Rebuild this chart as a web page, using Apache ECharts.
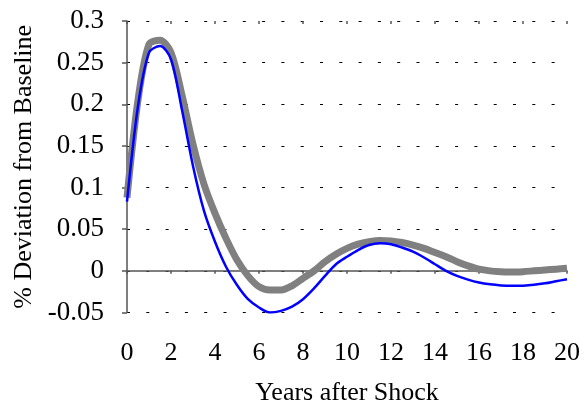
<!DOCTYPE html>
<html>
<head>
<meta charset="utf-8">
<script src="https://cdn.jsdelivr.net/npm/echarts@6/dist/echarts.min.js"></script>
<style>
  html, body { margin: 0; padding: 0; background: #fff; }
  #main { width: 585px; height: 405px; }
</style>
</head>
<body>
<div id="main"></div>
<script>
// 数据（每半年一个点）
var years = [0, 0.5, 1, 1.5, 2, 2.5, 3, 3.5, 4, 4.5, 5, 5.5, 6, 6.5, 7, 7.5, 8, 8.5, 9, 9.5, 10,
             10.5, 11, 11.5, 12, 12.5, 13, 13.5, 14, 14.5, 15, 15.5, 16, 16.5, 17, 17.5, 18, 18.5, 19, 19.5, 20];
var grayLine = [0.088, 0.205, 0.272, 0.277, 0.262, 0.211, 0.152, 0.104, 0.069, 0.039, 0.013, -0.006, -0.019, -0.023, -0.023, -0.018, -0.009, 0.0, 0.011, 0.020, 0.027,
                0.032, 0.035, 0.0365, 0.036, 0.034, 0.031, 0.027, 0.022, 0.017, 0.011, 0.006, 0.002, 0.0, -0.001, -0.0015, -0.001, 0.0, 0.001, 0.002, 0.003];
var blueLine = [0.083, 0.198, 0.262, 0.270, 0.254, 0.193, 0.126, 0.072, 0.035, 0.005, -0.017, -0.034, -0.044, -0.050, -0.048, -0.043, -0.034, -0.021, -0.006, 0.008, 0.017,
                0.025, 0.031, 0.033, 0.032, 0.028, 0.023, 0.016, 0.008, 0.0, -0.006, -0.0105, -0.014, -0.0162, -0.0175, -0.018, -0.0178, -0.0168, -0.015, -0.0125, -0.010];
var yTicks = { min: -0.05, max: 0.3, step: 0.05 };
var xTicks = { min: 0, max: 20, step: 2 };

function pairs(ys) {
    return years.map(function (t, i) { return [t, ys[i]]; });
}

var font = 'Liberation Serif';
var myChart = echarts.init(document.getElementById('main'));

var option = {
    backgroundColor: '#fff',
    animation: false,
    grid: { left: 127, right: 18, top: 21, bottom: 92.5, outerBoundsMode: 'none', containLabel: false },
    xAxis: [
        {   // 零线上的轴线和刻度（向下）
            type: 'value', min: xTicks.min, max: xTicks.max, interval: xTicks.step,
            axisLine: { onZero: true, lineStyle: { color: '#555', width: 1.5 } },
            axisTick: { show: true, inside: false, length: 3, lineStyle: { color: '#555', width: 1.5 } },
            axisLabel: { show: false },
            splitLine: { show: false }
        },
        {   // 刻度向上
            type: 'value', min: xTicks.min, max: xTicks.max, interval: xTicks.step,
            axisLine: { show: false, onZero: true },
            axisTick: { show: true, inside: true, length: 3, lineStyle: { color: '#555', width: 1.5 } },
            axisLabel: { show: false },
            splitLine: { show: false }
        },
        {   // 底部标签和标题
            type: 'value', min: xTicks.min, max: xTicks.max, interval: xTicks.step,
            position: 'bottom',
            axisLine: { show: false, onZero: false },
            axisTick: { show: false },
            axisLabel: { margin: 28, color: '#000', fontFamily: font, fontSize: 26 },
            splitLine: { show: false },
            name: 'Years after Shock',
            nameLocation: 'middle',
            nameGap: 68,
            nameTextStyle: { color: '#000', fontFamily: font, fontSize: 26 }
        }
    ],
    yAxis: {
        type: 'value', min: yTicks.min, max: yTicks.max, interval: yTicks.step,
        axisLine: { show: true, onZero: false, lineStyle: { color: '#555', width: 1.5 } },
        axisTick: { show: true, inside: false, length: 5, lineStyle: { color: '#555', width: 1.5 } },
        axisLabel: { margin: 23, color: '#000', fontFamily: font, fontSize: 27 },
        splitLine: { show: true, lineStyle: { color: '#000', width: 1.2, type: [3, 16.3] } },
        name: '% Deviation from Baseline',
        nameLocation: 'middle',
        nameGap: 88,
        nameTextStyle: { color: '#000', fontFamily: font, fontSize: 26 }
    },
    series: [
        {
            name: 'gray',
            type: 'line',
            xAxisIndex: 0,
            data: pairs(grayLine),
            smooth: 0.3,
            showSymbol: false,
            lineStyle: { color: '#808080', width: 7 },
            z: 2
        },
        {
            name: 'blue',
            type: 'line',
            xAxisIndex: 0,
            data: pairs(blueLine),
            smooth: 0.3,
            showSymbol: false,
            lineStyle: { color: '#0000ff', width: 2.5 },
            z: 3
        }
    ]
};

myChart.setOption(option);
</script>
</body>
</html>
